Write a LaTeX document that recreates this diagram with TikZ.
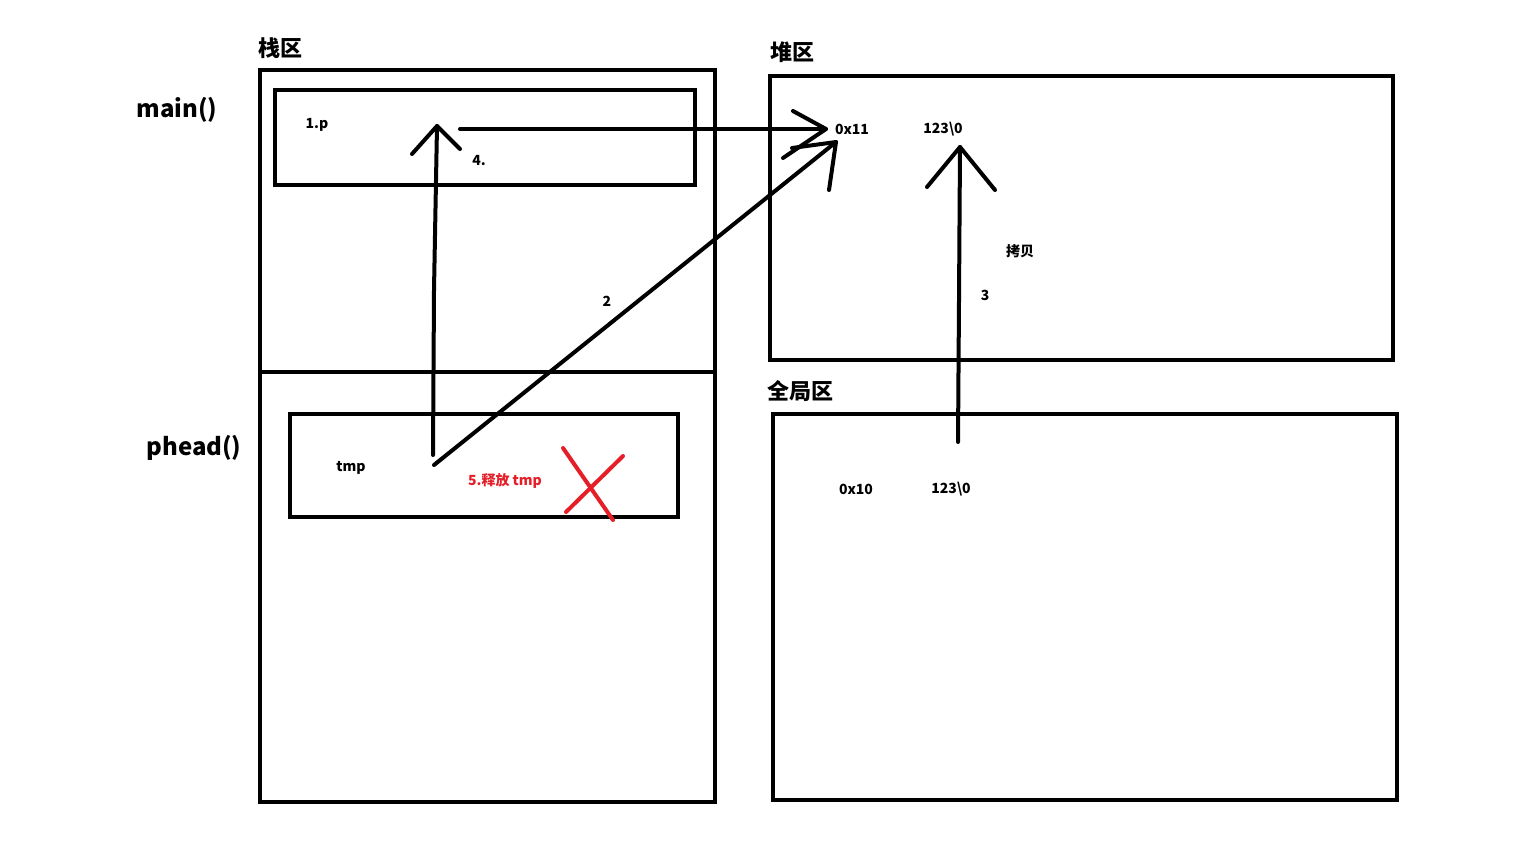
\documentclass[tikz,border=0pt]{standalone}
\usepackage{fontspec}
\setmainfont{Noto Sans CJK SC}
\begin{document}
\begin{tikzpicture}[x=0.5pt,y=-0.5pt,
  box/.style={draw=black,line width=2pt},
  pen/.style={draw=black,line width=2pt,line cap=round,line join=round},
  big/.style={font=\fontsize{11}{13}\selectfont\bfseries,inner sep=0pt,yshift=-0.5pt},
  small/.style={font=\fontsize{7}{8}\selectfont\bfseries,inner sep=0pt,yshift=-1pt}]
\useasboundingbox (0,0) rectangle (1536,864);
\fill[white] (0,0) rectangle (1536,864);
% boxes
\draw[box] (260,70) rectangle (715,802);
\draw[box] (260,372) -- (715,372);
\draw[box] (275,90) rectangle (695,185);
\draw[box] (290,414) rectangle (678,517);
\draw[box] (770,76) rectangle (1393,360);
\draw[box] (773,414) rectangle (1397,800);
% titles
\node[big] (tstack) at (280,47) {栈区};
\node[big] (theap) at (792,51) {堆区};
\node[big] (tglob) at (800,390) {全局区};
\node[big,font=\fontsize{12}{14}\selectfont\bfseries,yshift=-1pt] (tmain) at (177,107) {main()};
\node[big,font=\fontsize{12}{14}\selectfont\bfseries,yshift=-1pt] (tphead) at (194,445) {phead()};
% labels
\node[small] (lp) at (317,123) {1.p};
\node[small] (l4) at (479,159) {4.};
\node[small] (ltmp) at (351,466) {tmp};
\node[small,text={rgb,255:red,230;green,30;blue,40}] (lfree) at (505,479) {5.释放 tmp};
\node[small] (h11) at (852,127) {0x11};
\node[small] (hstr) at (943,127) {123\textbackslash 0};
\node[small] (lcopy) at (1020,249) {拷贝};
\node[small] (l3) at (985,293) {3};
\node[small] (l2) at (607,299) {2};
\node[small] (g10) at (856,487) {0x10};
\node[small] (gstr) at (951,487) {123\textbackslash 0};
% arrow up (tmp -> p)
\coordinate (a1s) at (433,455);
\coordinate (a1e) at (437,126);
\draw[pen] (a1s) -- (434,290) -- (a1e);
\draw[pen] (412,154) -- (a1e) -- (460,149);
% arrow p -> heap
\coordinate (a4s) at (460,129);
\coordinate (a4e) at (826,129);
\draw[pen] (a4s) -- (640,129) -- (a4e);
\draw[pen] (793,111) -- (a4e) -- (783,158);
% arrow 2 tmp -> heap
\coordinate (a2s) at (434,465);
\coordinate (a2e) at (836,142);
\draw[pen] (a2s) -- (a2e);
\draw[pen] (792,148) -- (a2e) -- (829,190);
% arrow 3 global -> heap
\coordinate (a3s) at (958,442);
\coordinate (a3e) at (960,147);
\draw[pen] (a3s) -- (959,300) -- (a3e);
\draw[pen] (927,187) -- (a3e) -- (995,190);
% red X
\draw[line width=2pt,draw={rgb,255:red,230;green,30;blue,40},line cap=round] (563,448) -- (613,520);
\draw[line width=2pt,draw={rgb,255:red,230;green,30;blue,40},line cap=round] (623,456) -- (566,512);
\end{tikzpicture}
\end{document}
